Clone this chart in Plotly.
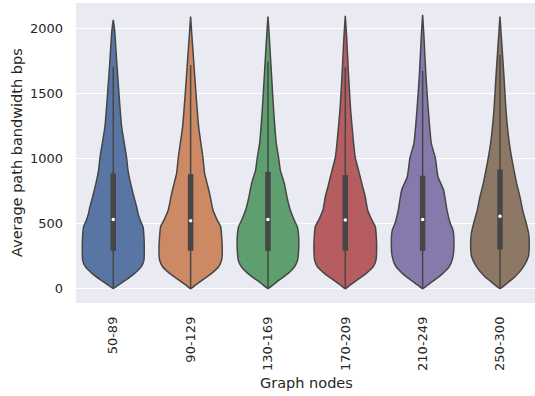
import plotly.graph_objects as go

categories = ["50-89", "90-129", "130-169", "170-209", "210-249", "250-300"]
colors = ["#5875a4", "#cc8963", "#5f9e6e", "#b55d60", "#857aab", "#8d7866"]

# Density profiles (value, relative half-width)
prof_y = [
    [0, 27, 65, 117, 168, 219, 300, 400, 475, 530, 580, 629, 705, 808, 910, 1005, 1244, 1500, 1756, 1987, 2064],
    [0, 26, 64, 115, 168, 219, 300, 400, 475, 530, 603, 705, 782, 885, 1005, 1244, 1500, 1756, 1936, 2090],
    [0, 26, 64, 115, 168, 219, 300, 400, 475, 530, 603, 705, 808, 910, 1005, 1115, 1372, 1628, 1936, 2090],
    [0, 26, 64, 115, 168, 219, 300, 400, 475, 530, 603, 705, 782, 885, 1005, 1115, 1372, 1628, 1936, 2095],
    [0, 26, 64, 115, 168, 244, 346, 449, 500, 603, 756, 859, 1005, 1115, 1372, 1628, 1936, 2103],
    [0, 38, 90, 167, 244, 346, 423, 500, 603, 705, 808, 910, 1005, 1115, 1372, 1628, 1936, 2090],
]
prof_d = [
    [0, 15, 37, 64, 84, 92, 93, 92, 89, 80, 74, 70, 62, 52, 44, 40, 25, 17, 10, 4, 0],
    [0, 14, 35, 62, 84, 93, 95, 93, 90, 79, 67, 59, 52, 42, 37, 24, 16, 9, 4, 0],
    [0, 14, 33, 60, 80, 89, 92, 92, 88, 78, 67, 57, 49, 37, 32, 25, 17, 11, 4, 0],
    [0, 14, 35, 62, 84, 92, 94, 93, 90, 79, 67, 60, 52, 42, 30, 25, 16, 10, 4, 0],
    [0, 14, 35, 60, 80, 91, 94, 91, 83, 73, 63, 46, 38, 26, 17, 10, 4, 0],
    [0, 20, 45, 70, 85, 88, 86, 79, 68, 60, 50, 42, 35, 28, 18, 12, 4, 0],
]

q1 = [290, 290, 290, 290, 290, 300]
median = [531, 521, 531, 526, 531, 556]
q3 = [885, 879, 897, 872, 867, 915]
whisk_lo = [0, 0, 0, 0, 0, 0]
whisk_hi = [1705, 1718, 1744, 1700, 1672, 1795]

edge = "#464646"
width_scale = 1.0 / 232.0

fig = go.Figure()
for i, cat in enumerate(categories):
    ys = prof_y[i]
    ds = [d * width_scale for d in prof_d[i]]
    xs = [i + d for d in ds] + [i - d for d in reversed(ds)]
    yy = ys + list(reversed(ys))
    fig.add_trace(go.Scatter(
        x=xs, y=yy, mode="lines", fill="toself", fillcolor=colors[i],
        line=dict(color=edge, width=1.5, shape="spline", smoothing=0.5),
        hoverinfo="skip", showlegend=False))
    fig.add_trace(go.Scatter(
        x=[i, i], y=[whisk_lo[i], whisk_hi[i]], mode="lines",
        line=dict(color=edge, width=1.5), hoverinfo="skip", showlegend=False))
    fig.add_trace(go.Scatter(
        x=[i, i], y=[q1[i], q3[i]], mode="lines",
        line=dict(color=edge, width=5.5), hoverinfo="skip", showlegend=False))
    fig.add_trace(go.Scatter(
        x=[i], y=[median[i]], mode="markers",
        marker=dict(color="white", size=3.5, line=dict(width=0)),
        hoverinfo="skip", showlegend=False))

fig.update_layout(
    width=535, height=396,
    margin=dict(l=76, r=0, t=3, b=93),
    paper_bgcolor="white", plot_bgcolor="#eaeaf2",
    font=dict(family="DejaVu Sans", size=13, color="#262626"),
    showlegend=False,
    xaxis=dict(range=[-0.482, 5.453], tickmode="array",
               tickvals=list(range(len(categories))), ticktext=categories,
               tickangle=-90, showgrid=False, zeroline=False,
               ticks="", ticklabelstandoff=10,
               tickfont=dict(family="DejaVu Sans", size=13, color="#262626")),
    yaxis=dict(range=[-111, 2194], tickvals=[0, 500, 1000, 1500, 2000],
               showgrid=True, gridcolor="white", gridwidth=1.2, zeroline=False,
               ticks="", ticklabelstandoff=12,
               tickfont=dict(family="DejaVu Sans", size=13, color="#262626")),
    annotations=[
        dict(text="Graph nodes", xref="paper", yref="paper",
             x=(306 - 76) / 459, y=(303 - 383) / 300, xanchor="center", yanchor="middle",
             showarrow=False, font=dict(family="DejaVu Sans", size=14.5, color="#262626")),
        dict(text="Average path bandwidth bps", xref="paper", yref="paper",
             x=(17 - 76) / 459, y=(303 - 153) / 300, xanchor="center", yanchor="middle",
             textangle=-90, showarrow=False,
             font=dict(family="DejaVu Sans", size=14.5, color="#262626")),
    ],
)

fig.write_html("out.html")
